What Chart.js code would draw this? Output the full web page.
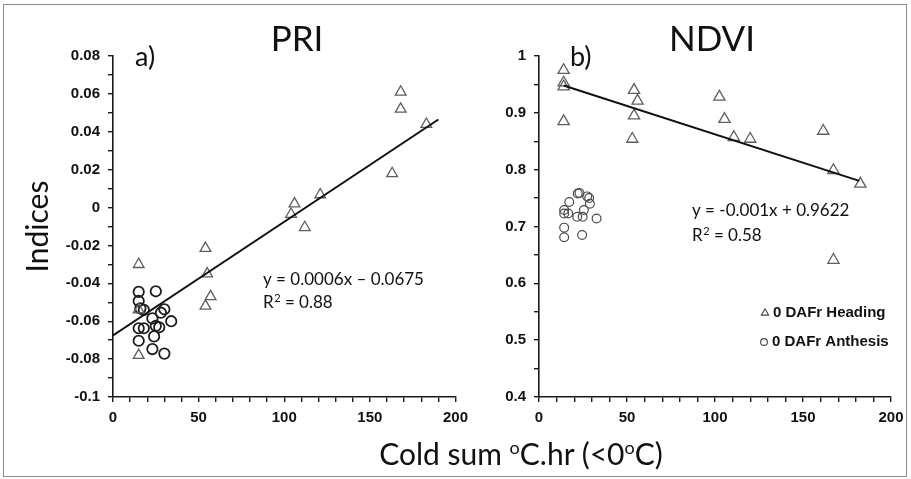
<!DOCTYPE html>
<html>
<head>
<meta charset="utf-8">
<script src="https://cdn.jsdelivr.net/npm/chart.js@4.4.1/dist/chart.umd.min.js"></script>
<style>
  html, body { margin: 0; padding: 0; background: #fff; }
  #wrap { position: relative; width: 911px; height: 479px; background: #fff; overflow: hidden; }
  #frame { position: absolute; left: 3px; top: 4px; width: 902px; height: 471px; border: 1px solid #8c8c8c; }
  canvas { position: absolute; top: 0; }
  #cvPri { left: 0; }
  #cvNdvi { left: 475px; }
  #xTitle { position: absolute; left: 0; width: 1042px; top: 435px; text-align: center;
            font-family: Lato, "Open Sans", sans-serif; font-size: 30px; color: #111; line-height: 36px; }
  #xTitle sup { font-size: 18px; vertical-align: 0; position: relative; top: -11px; }
</style>
</head>
<body>
<div id="wrap">
  <div id="frame"></div>
  <canvas id="cvPri" width="475" height="479"></canvas>
  <canvas id="cvNdvi" width="436" height="479"></canvas>
  <div id="xTitle">Cold sum <sup>o</sup>C.hr (&lt;0<sup>o</sup>C)</div>
</div>
<script>
// ---- PRI panel (a) ----
const priHeadX = [15, 15, 15, 54, 55, 57, 54, 104, 106, 112, 121, 163, 168, 168, 183];
const priHeadY = [-0.030, -0.054, -0.078, -0.0215, -0.035, -0.047, -0.052, -0.0035, 0.002, -0.0105, 0.0068, 0.018, 0.061, 0.052, 0.044];
const priAnthX = [15, 25, 15, 16, 18, 30, 28, 23, 34, 25, 27, 15, 18, 24, 15, 23, 30];
const priAnthY = [-0.0445, -0.0442, -0.0493, -0.0532, -0.054, -0.0537, -0.0555, -0.0585, -0.060, -0.0625, -0.0632, -0.0637, -0.0637, -0.068, -0.0703, -0.0747, -0.0771];
const priFit = { slope: 0.0006, intercept: -0.0675, from: 0, to: 190 };

// ---- NDVI panel (b) ----
const ndviHeadX = [14, 14, 14, 14, 54, 56, 54, 53, 102.5, 105.4, 110.7, 120, 161.5, 167.3, 182.6, 167.3];
const ndviHeadY = [0.975, 0.953, 0.946, 0.885, 0.940, 0.921, 0.895, 0.854, 0.928, 0.889, 0.857, 0.854, 0.868, 0.799, 0.775, 0.641];
const ndviAnthX = [22, 23, 27.4, 28.5, 17.2, 28.9, 14.3, 25.5, 14.3, 16.6, 21.7, 24.8, 32.7, 14.3, 14.3, 24.5];
const ndviAnthY = [0.758, 0.759, 0.753, 0.750, 0.743, 0.740, 0.729, 0.729, 0.723, 0.723, 0.717, 0.717, 0.714, 0.698, 0.681, 0.685];
const ndviFit = { slope: -0.001, intercept: 0.9622, from: 14, to: 182 };

// axis ranges and labelled ticks
const xRange = [0, 200];
const xLabelTicks = [0, 50, 100, 150, 200];
const priRange = [-0.1, 0.08];
const priLabelTicks = [0.08, 0.06, 0.04, 0.02, 0, -0.02, -0.04, -0.06, -0.08, -0.1];
const ndviRange = [0.4, 1];
const ndviLabelTicks = [1, 0.9, 0.8, 0.7, 0.6, 0.5, 0.4];

const seriesNames = ['0 DAFr Heading', '0 DAFr Anthesis'];

const zip = (xs, ys) => xs.map((x, i) => ({ x: x, y: ys[i] }));
const fitLine = f => [
  { x: f.from, y: f.slope * f.from + f.intercept },
  { x: f.to, y: f.slope * f.to + f.intercept }
];
const near = (v, list) => list.some(t => Math.abs(t - v) < 1e-6);

const tickFont = { family: '"Liberation Sans", Arial, sans-serif', size: 15, weight: 'bold' };

// Draws panel titles, letters, regression equations (with optional superscript) and the key
const panelText = {
  id: 'panelText',
  afterDraw(chart, args, opts) {
    const ctx = chart.ctx;
    ctx.save();
    (opts.items || []).forEach(it => {
      ctx.font = it.font;
      ctx.fillStyle = it.color || '#111';
      ctx.textAlign = it.align || 'left';
      ctx.textBaseline = 'middle';
      ctx.fillText(it.text, it.x, it.y);
      if (it.sup) {
        let x = it.x + ctx.measureText(it.text).width;
        ctx.font = it.supFont;
        ctx.fillText(it.sup, x + 0.5, it.y - 5);
        x += ctx.measureText(it.sup).width + 0.5;
        ctx.font = it.font;
        ctx.fillText(it.rest, x, it.y);
      }
    });
    (opts.keys || []).forEach(k => {
      ctx.strokeStyle = '#444';
      ctx.lineWidth = 1.1;
      ctx.beginPath();
      if (k.style === 'circle') {
        ctx.arc(k.x, k.y, k.r, 0, Math.PI * 2);
      } else {
        const h = k.r * 1.5, w = k.r * Math.sqrt(3);
        ctx.moveTo(k.x, k.y - h * 2 / 3);
        ctx.lineTo(k.x + w / 2, k.y + h / 3);
        ctx.lineTo(k.x - w / 2, k.y + h / 3);
        ctx.closePath();
      }
      ctx.stroke();
      ctx.font = 'bold 15px "Liberation Sans", Arial, sans-serif';
      ctx.fillStyle = '#111';
      ctx.textAlign = 'left';
      ctx.textBaseline = 'middle';
      ctx.fillText(k.text, k.x + 8, k.y);
    });
    ctx.restore();
  }
};

function makeChart(canvasId, cfg) {
  return new Chart(document.getElementById(canvasId), {
    type: 'scatter',
    data: {
      datasets: [
        {
          label: seriesNames[0], data: zip(cfg.headX, cfg.headY),
          pointStyle: 'triangle', pointRadius: cfg.triR, borderColor: '#5e5e5e',
          backgroundColor: 'rgba(0,0,0,0)', pointBorderWidth: 1.3, order: 2
        },
        {
          label: seriesNames[1], data: zip(cfg.anthX, cfg.anthY),
          pointStyle: 'circle', pointRadius: cfg.circR, borderColor: cfg.circColor,
          backgroundColor: 'rgba(0,0,0,0)', pointBorderWidth: cfg.circW, order: 3
        },
        {
          label: 'fit', data: fitLine(cfg.fit), showLine: true, pointRadius: 0,
          borderColor: '#111', borderWidth: 2, order: 1
        }
      ]
    },
    options: {
      responsive: false,
      animation: false,
      events: [],
      layout: { padding: { top: 56, right: cfg.padRight, bottom: 0, left: 0 } },
      plugins: {
        legend: { display: false },
        tooltip: { enabled: false },
        panelText: { items: cfg.items, keys: cfg.keys || [] }
      },
      scales: {
        x: {
          type: 'linear', min: xRange[0], max: xRange[1],
          afterFit: s => { s.height = 82; },
          border: { color: '#1a1a1a', width: 1.6 },
          grid: { drawOnChartArea: false, tickLength: 5, color: '#1a1a1a', lineWidth: 1.4 },
          ticks: {
            stepSize: 10, autoSkip: false, maxRotation: 0, padding: 7,
            color: '#111', font: tickFont,
            callback: v => near(v, xLabelTicks) ? String(v) : ''
          }
        },
        y: {
          type: 'linear', min: cfg.yRange[0], max: cfg.yRange[1],
          afterFit: s => { s.width = cfg.yWidth; },
          border: { color: '#1a1a1a', width: 1.6 },
          grid: { drawOnChartArea: false, tickLength: 5, color: '#1a1a1a', lineWidth: 1.4 },
          title: cfg.yTitle ? {
            display: true, text: cfg.yTitle, color: '#111',
            font: { family: 'Lato, "Open Sans", sans-serif', size: 30 },
            padding: { top: 20, bottom: 0 }
          } : { display: false },
          ticks: {
            stepSize: cfg.yStep, autoSkip: false, padding: 8,
            color: '#111', font: tickFont,
            callback: v => near(v, cfg.yLabels) ? String(Number(v.toFixed(2))) : ''
          }
        }
      }
    },
    plugins: [panelText]
  });
}

const titleFont = '35px Lato, "Open Sans", sans-serif';
const letterFont = '27px Lato, "Open Sans", sans-serif';
const eqFont = '17px Lato, "Open Sans", sans-serif';
const supFont = '11px Lato, "Open Sans", sans-serif';

makeChart('cvPri', {
  headX: priHeadX, headY: priHeadY, anthX: priAnthX, anthY: priAnthY, fit: priFit,
  triR: 6.2, circR: 5.2, circW: 1.8, circColor: '#1e1e1e',
  yRange: priRange, yStep: 0.01, yLabels: priLabelTicks, yWidth: 113, padRight: 13,
  yTitle: 'Indices',
  items: [
    { text: 'PRI', x: 297, y: 40, font: titleFont, align: 'center' },
    { text: 'a)', x: 135, y: 57, font: letterFont },
    { text: 'y = 0.0006x \u2013 0.0675', x: 263, y: 280, font: eqFont },
    { text: 'R', sup: '2', rest: ' = 0.88', x: 263, y: 303, font: eqFont, supFont: supFont }
  ]
});

makeChart('cvNdvi', {
  headX: ndviHeadX, headY: ndviHeadY, anthX: ndviAnthX, anthY: ndviAnthY, fit: ndviFit,
  triR: 6.5, circR: 4.4, circW: 1.2, circColor: '#4a4a4a',
  yRange: ndviRange, yStep: 0.05, yLabels: ndviLabelTicks, yWidth: 64, padRight: 20,
  yTitle: null,
  items: [
    { text: 'NDVI', x: 712 - 475, y: 40, font: titleFont, align: 'center' },
    { text: 'b)', x: 570 - 475, y: 57, font: letterFont },
    { text: 'y = -0.001x + 0.9622', x: 692 - 475, y: 211, font: eqFont },
    { text: 'R', sup: '2', rest: ' = 0.58', x: 692 - 475, y: 236, font: eqFont, supFont: supFont }
  ],
  keys: [
    { style: 'triangle', r: 4.2, x: 765 - 475, y: 313, text: seriesNames[0] },
    { style: 'circle', r: 3.4, x: 764 - 475, y: 342, text: seriesNames[1] }
  ]
});
</script>
</body>
</html>
